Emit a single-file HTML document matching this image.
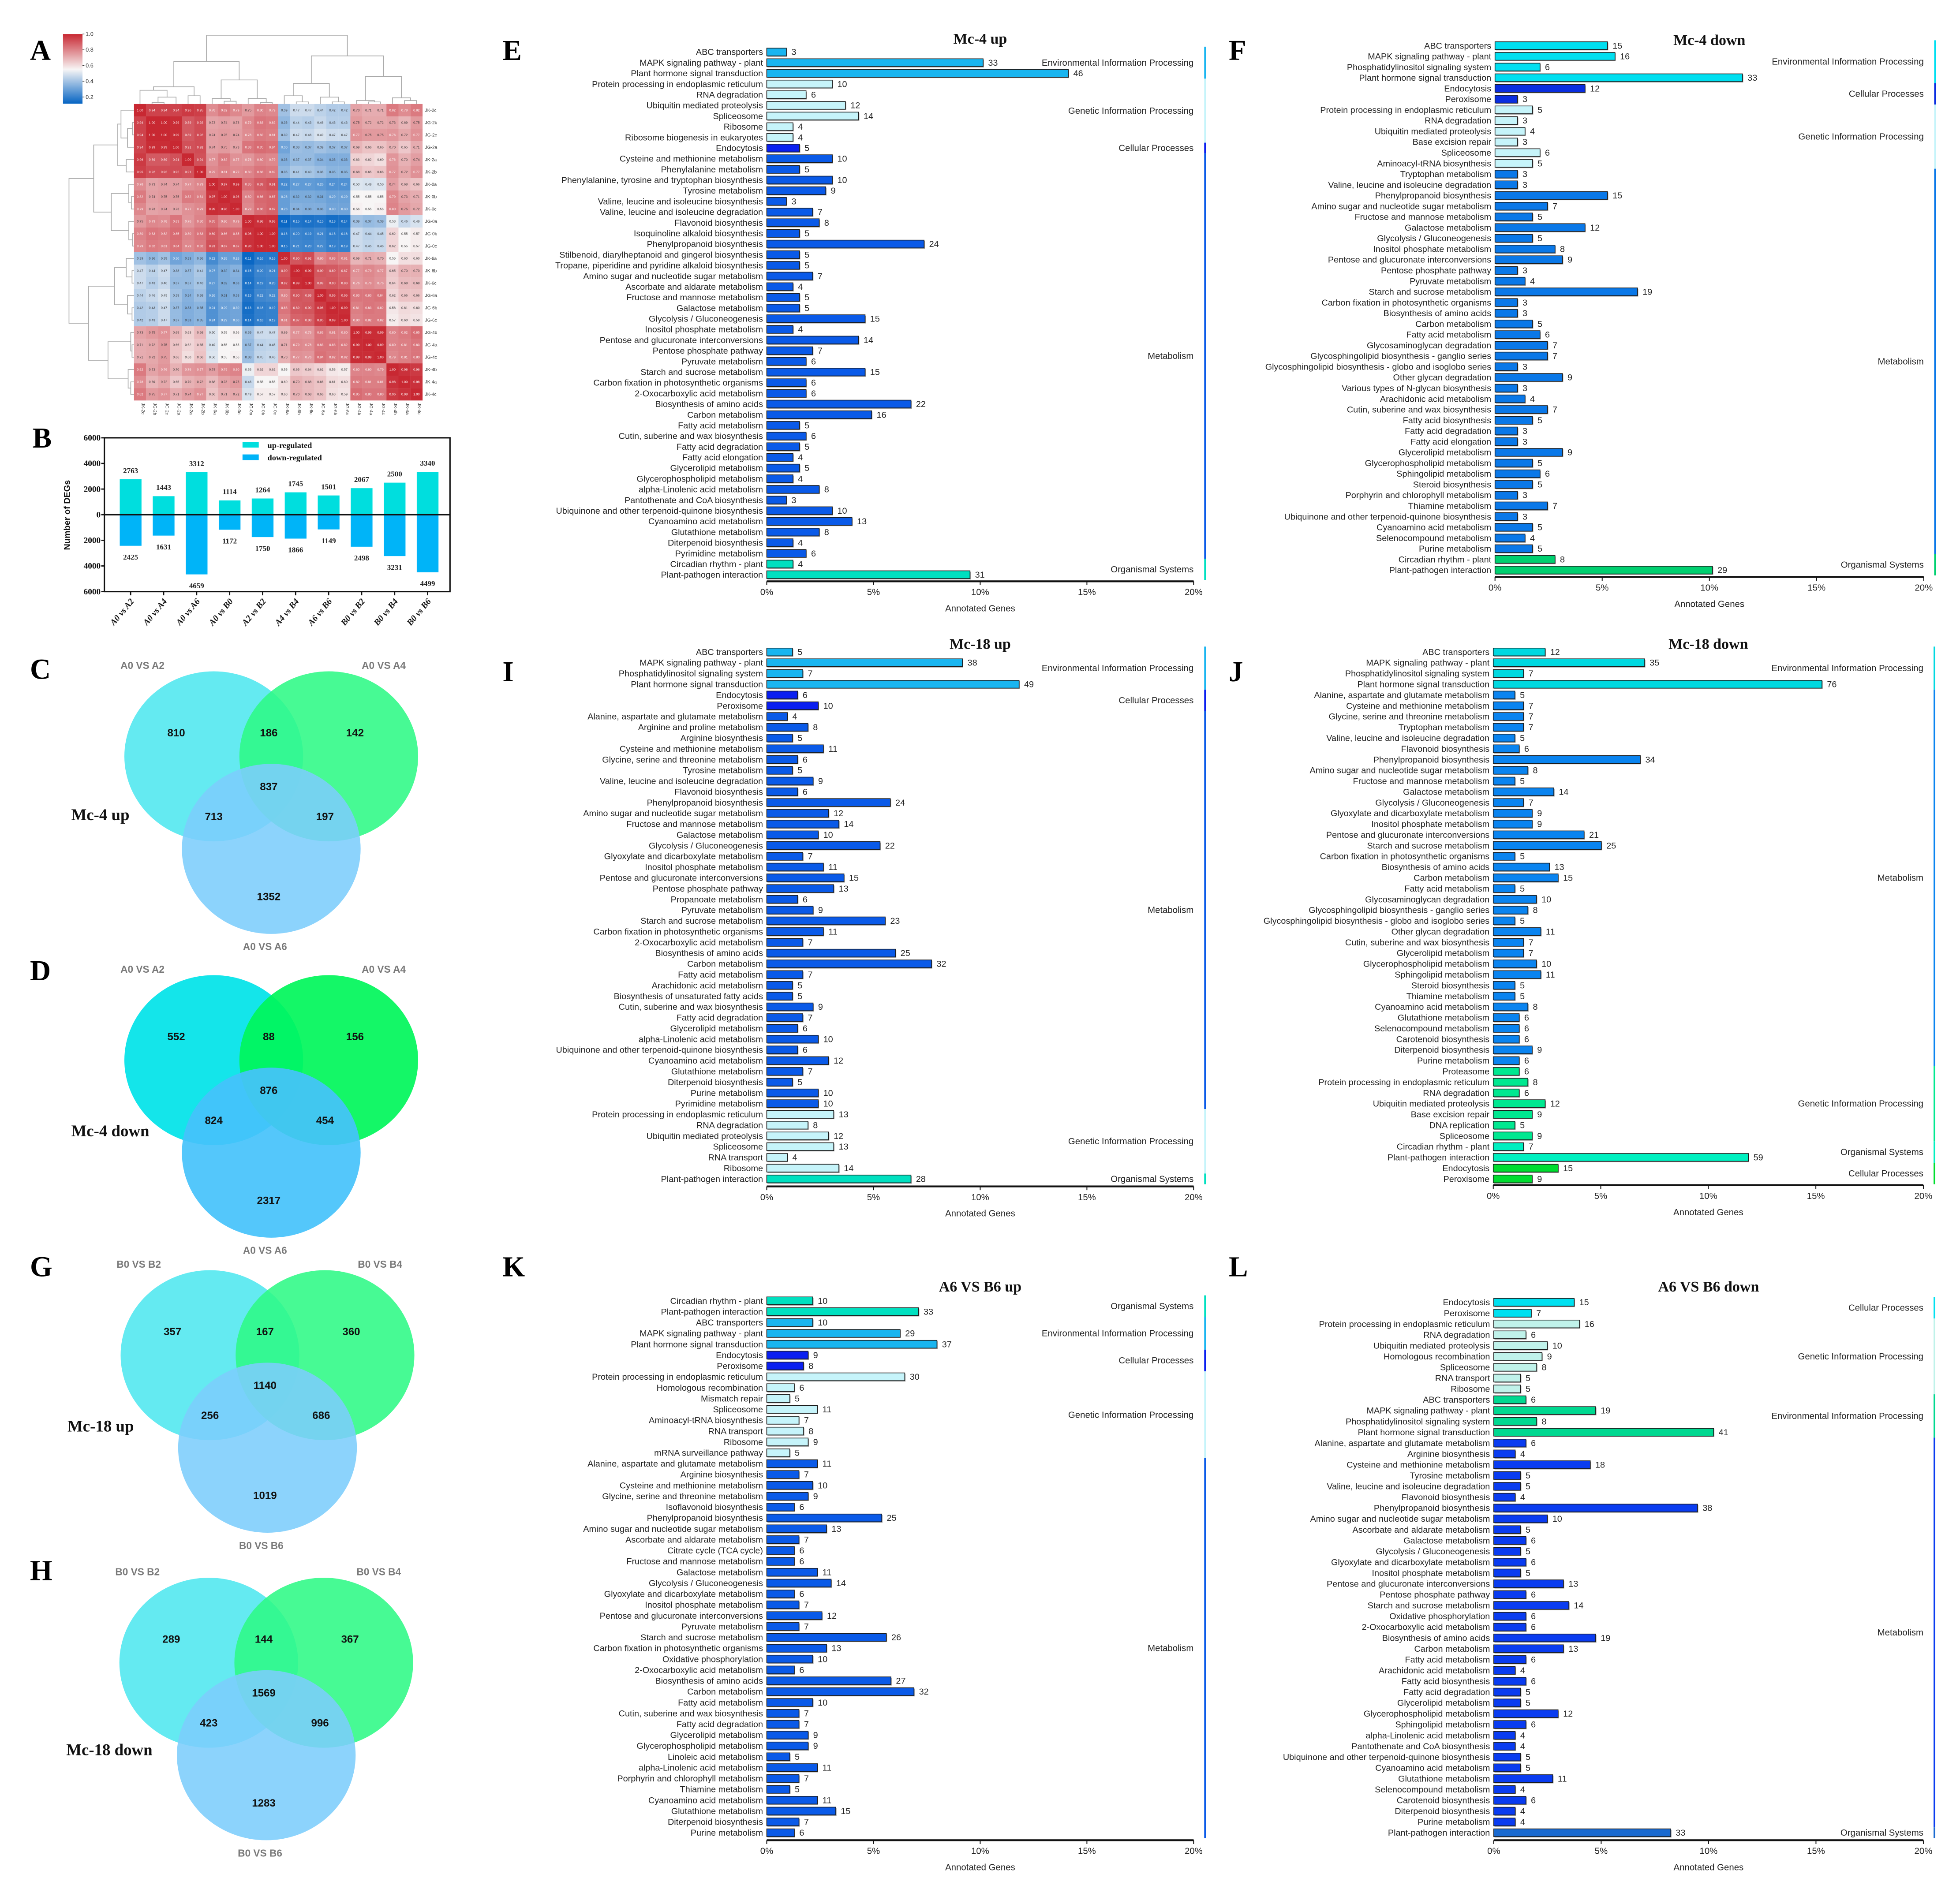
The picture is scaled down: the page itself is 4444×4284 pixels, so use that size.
<!DOCTYPE html>
<html><head><meta charset="utf-8"><style>
html,body{margin:0;padding:0;background:#fff;}
svg{display:block;}
text{font-family:"Liberation Sans",sans-serif;}
.serif{font-family:"Liberation Serif",serif;}
</style></head><body>
<svg id="fig" xmlns="http://www.w3.org/2000/svg" width="4444" height="4284" viewBox="0 0 1568 1511" preserveAspectRatio="none">
<rect x="0" y="0" width="1568" height="1511" fill="#fff"/>
<defs><linearGradient id="cbar" x1="0" y1="0" x2="0" y2="1">
<stop offset="0" stop-color="#c82832"/><stop offset="0.509" stop-color="#f7f5f5"/><stop offset="1" stop-color="#0564c3"/>
</linearGradient></defs>
</svg>
<script>
// ---------- DATA ----------
const hmLabels=['JK-2c','JG-2b','JG-2c','JG-2a','JK-2a','JK-2b','JK-0a','JK-0b','JK-0c','JG-0a','JG-0b','JG-0c','JK-6a','JK-6b','JK-6c','JG-6a','JG-6b','JG-6c','JG-4b','JG-4a','JG-4c','JK-4b','JK-4a','JK-4c'];
const hmValues=[
[1.00,.94,.94,.94,.96,.95,.78,.82,.79,.75,.80,.79,.39,.47,.47,.44,.42,.42,.73,.71,.71,.82,.78,.82],
[.94,1,1,.99,.89,.92,.73,.74,.73,.79,.83,.82,.36,.44,.43,.46,.43,.43,.75,.72,.72,.73,.69,.75],
[.94,1,1,.99,.89,.92,.74,.75,.74,.78,.82,.81,.39,.47,.46,.49,.47,.47,.77,.75,.75,.76,.72,.77],
[.94,.99,.99,1,.91,.92,.74,.75,.73,.83,.85,.84,.30,.38,.37,.39,.37,.37,.69,.66,.66,.70,.65,.71],
[.96,.89,.89,.91,1,.91,.77,.82,.77,.76,.80,.79,.33,.37,.37,.34,.33,.33,.63,.62,.60,.76,.70,.74],
[.95,.92,.92,.92,.91,1,.79,.81,.79,.80,.83,.82,.36,.41,.40,.38,.35,.35,.68,.65,.66,.77,.72,.77],
[.78,.73,.74,.74,.77,.79,1,.97,.99,.85,.89,.91,.22,.27,.27,.26,.24,.24,.50,.49,.50,.74,.68,.66],
[.82,.74,.75,.75,.82,.81,.97,1,.98,.80,.86,.87,.28,.32,.32,.31,.29,.29,.55,.55,.55,.79,.73,.71],
[.79,.73,.74,.73,.77,.79,.99,.98,1,.79,.85,.87,.28,.34,.33,.33,.30,.30,.56,.55,.56,.80,.75,.72],
[.75,.79,.78,.83,.76,.80,.85,.80,.79,1,.98,.98,.11,.15,.14,.15,.13,.14,.39,.37,.38,.53,.46,.49],
[.80,.83,.82,.85,.80,.83,.89,.86,.85,.98,1,1,.16,.20,.19,.21,.18,.18,.47,.44,.45,.62,.55,.57],
[.79,.82,.81,.84,.79,.82,.91,.87,.87,.98,1,1,.16,.21,.20,.22,.19,.19,.47,.45,.46,.62,.55,.57],
[.39,.36,.39,.30,.33,.36,.22,.28,.28,.11,.16,.16,1,.90,.92,.80,.83,.81,.69,.71,.70,.55,.60,.60],
[.47,.44,.47,.38,.37,.41,.27,.32,.34,.15,.20,.21,.90,1,.99,.90,.89,.87,.77,.79,.77,.65,.70,.70],
[.47,.43,.46,.37,.37,.40,.27,.32,.33,.14,.19,.20,.92,.99,1,.89,.90,.88,.76,.78,.76,.64,.68,.68],
[.44,.46,.49,.39,.34,.38,.26,.31,.33,.15,.21,.22,.80,.90,.89,1,.96,.95,.83,.83,.84,.62,.66,.66],
[.42,.43,.47,.37,.33,.35,.24,.29,.30,.13,.18,.19,.83,.89,.90,.96,1,.99,.81,.83,.82,.58,.61,.60],
[.42,.43,.47,.37,.33,.35,.24,.29,.30,.14,.18,.19,.81,.87,.88,.95,.99,1,.80,.82,.82,.57,.60,.59],
[.73,.75,.77,.69,.63,.68,.50,.55,.56,.39,.47,.47,.69,.77,.76,.83,.81,.80,1,.99,.99,.80,.82,.85],
[.71,.72,.75,.66,.62,.65,.49,.55,.55,.37,.44,.45,.71,.79,.78,.83,.83,.82,.99,1,.99,.80,.81,.83],
[.71,.72,.75,.66,.60,.66,.50,.55,.56,.38,.45,.46,.70,.77,.76,.84,.82,.82,.99,.99,1,.79,.81,.83],
[.82,.73,.76,.70,.76,.77,.74,.79,.80,.53,.62,.62,.55,.65,.64,.62,.58,.57,.80,.80,.79,1,.98,.96],
[.78,.69,.72,.65,.70,.72,.68,.73,.75,.46,.55,.55,.60,.70,.68,.66,.61,.60,.82,.81,.81,.98,1,.98],
[.82,.75,.77,.71,.74,.77,.66,.71,.72,.49,.57,.57,.60,.70,.68,.66,.60,.59,.85,.83,.83,.96,.98,1]];
const hmTree=[1.0,[0.62,[0.25,[0.2,0,[0.1,[0.02,1,2],3]],[0.12,4,5]],[0.35,[0.08,6,[0.04,7,8]],[0.08,9,[0.02,10,11]]]],[0.7,[0.3,[0.12,12,[0.03,13,14]],[0.1,15,[0.03,16,17]]],[0.4,[0.05,18,[0.03,19,20]],[0.09,21,[0.05,22,23]]]]];
const cbTicks=[1.0,0.8,0.6,0.4,0.2];

const degCats=['A0 vs A2','A0 vs A4','A0 vs A6','A0 vs B0','A2 vs B2','A4 vs B4','A6 vs B6','B0 vs B2','B0 vs B4','B0 vs B6'];
const degUp=[2763,1443,3312,1114,1264,1745,1501,2067,2500,3340];
const degDown=[2425,1631,4659,1172,1750,1866,1149,2498,3231,4499];
const degTicks=[6000,4000,2000,0,-2000,-4000,-6000];

const vennC=[810,186,142,837,713,197,1352];
const vennD=[552,88,156,876,824,454,2317];
const vennG=[357,167,360,1140,256,686,1019];
const vennH=[289,144,367,1569,423,996,1283];

const eCats=['ABC transporters','MAPK signaling pathway - plant','Plant hormone signal transduction','Protein processing in endoplasmic reticulum','RNA degradation','Ubiquitin mediated proteolysis','Spliceosome','Ribosome','Ribosome biogenesis in eukaryotes','Endocytosis','Cysteine and methionine metabolism','Phenylalanine metabolism','Phenylalanine, tyrosine and tryptophan biosynthesis','Tyrosine metabolism','Valine, leucine and isoleucine biosynthesis','Valine, leucine and isoleucine degradation','Flavonoid biosynthesis','Isoquinoline alkaloid biosynthesis','Phenylpropanoid biosynthesis','Stilbenoid, diarylheptanoid and gingerol biosynthesis','Tropane, piperidine and pyridine alkaloid biosynthesis','Amino sugar and nucleotide sugar metabolism','Ascorbate and aldarate metabolism','Fructose and mannose metabolism','Galactose metabolism','Glycolysis / Gluconeogenesis','Inositol phosphate metabolism','Pentose and glucuronate interconversions','Pentose phosphate pathway','Pyruvate metabolism','Starch and sucrose metabolism','Carbon fixation in photosynthetic organisms','2-Oxocarboxylic acid metabolism','Biosynthesis of amino acids','Carbon metabolism','Fatty acid metabolism','Cutin, suberine and wax biosynthesis','Fatty acid degradation','Fatty acid elongation','Glycerolipid metabolism','Glycerophospholipid metabolism','alpha-Linolenic acid metabolism','Pantothenate and CoA biosynthesis','Ubiquinone and other terpenoid-quinone biosynthesis','Cyanoamino acid metabolism','Glutathione metabolism','Diterpenoid biosynthesis','Pyrimidine metabolism','Circadian rhythm - plant','Plant-pathogen interaction'];
const eVals=[3,33,46,10,6,12,14,4,4,5,10,5,10,9,3,7,8,5,24,5,5,7,4,5,5,15,4,14,7,6,15,6,6,22,16,5,6,5,4,5,4,8,3,10,13,8,4,6,4,31];
const eGroups=[['Environmental Information Processing',3],['Genetic Information Processing',6],['Cellular Processes',1],['Metabolism',38],['Organismal Systems',2]];

const fCats=['ABC transporters','MAPK signaling pathway - plant','Phosphatidylinositol signaling system','Plant hormone signal transduction','Endocytosis','Peroxisome','Protein processing in endoplasmic reticulum','RNA degradation','Ubiquitin mediated proteolysis','Base excision repair','Spliceosome','Aminoacyl-tRNA biosynthesis','Tryptophan metabolism','Valine, leucine and isoleucine degradation','Phenylpropanoid biosynthesis','Amino sugar and nucleotide sugar metabolism','Fructose and mannose metabolism','Galactose metabolism','Glycolysis / Gluconeogenesis','Inositol phosphate metabolism','Pentose and glucuronate interconversions','Pentose phosphate pathway','Pyruvate metabolism','Starch and sucrose metabolism','Carbon fixation in photosynthetic organisms','Biosynthesis of amino acids','Carbon metabolism','Fatty acid metabolism','Glycosaminoglycan degradation','Glycosphingolipid biosynthesis - ganglio series','Glycosphingolipid biosynthesis - globo and isoglobo series','Other glycan degradation','Various types of N-glycan biosynthesis','Arachidonic acid metabolism','Cutin, suberine and wax biosynthesis','Fatty acid biosynthesis','Fatty acid degradation','Fatty acid elongation','Glycerolipid metabolism','Glycerophospholipid metabolism','Sphingolipid metabolism','Steroid biosynthesis','Porphyrin and chlorophyll metabolism','Thiamine metabolism','Ubiquinone and other terpenoid-quinone biosynthesis','Cyanoamino acid metabolism','Selenocompound metabolism','Purine metabolism','Circadian rhythm - plant','Plant-pathogen interaction'];
const fVals=[15,16,6,33,12,3,5,3,4,3,6,5,3,3,15,7,5,12,5,8,9,3,4,19,3,3,5,6,7,7,3,9,3,4,7,5,3,3,9,5,6,5,3,7,3,5,4,5,8,29];
const fGroups=[['Environmental Information Processing',4],['Cellular Processes',2],['Genetic Information Processing',6],['Metabolism',36],['Organismal Systems',2]];

const iCats=['ABC transporters','MAPK signaling pathway - plant','Phosphatidylinositol signaling system','Plant hormone signal transduction','Endocytosis','Peroxisome','Alanine, aspartate and glutamate metabolism','Arginine and proline metabolism','Arginine biosynthesis','Cysteine and methionine metabolism','Glycine, serine and threonine metabolism','Tyrosine metabolism','Valine, leucine and isoleucine degradation','Flavonoid biosynthesis','Phenylpropanoid biosynthesis','Amino sugar and nucleotide sugar metabolism','Fructose and mannose metabolism','Galactose metabolism','Glycolysis / Gluconeogenesis','Glyoxylate and dicarboxylate metabolism','Inositol phosphate metabolism','Pentose and glucuronate interconversions','Pentose phosphate pathway','Propanoate metabolism','Pyruvate metabolism','Starch and sucrose metabolism','Carbon fixation in photosynthetic organisms','2-Oxocarboxylic acid metabolism','Biosynthesis of amino acids','Carbon metabolism','Fatty acid metabolism','Arachidonic acid metabolism','Biosynthesis of unsaturated fatty acids','Cutin, suberine and wax biosynthesis','Fatty acid degradation','Glycerolipid metabolism','alpha-Linolenic acid metabolism','Ubiquinone and other terpenoid-quinone biosynthesis','Cyanoamino acid metabolism','Glutathione metabolism','Diterpenoid biosynthesis','Purine metabolism','Pyrimidine metabolism','Protein processing in endoplasmic reticulum','RNA degradation','Ubiquitin mediated proteolysis','Spliceosome','RNA transport','Ribosome','Plant-pathogen interaction'];
const iVals=[5,38,7,49,6,10,4,8,5,11,6,5,9,6,24,12,14,10,22,7,11,15,13,6,9,23,11,7,25,32,7,5,5,9,7,6,10,6,12,7,5,10,10,13,8,12,13,4,14,28];
const iGroups=[['Environmental Information Processing',4],['Cellular Processes',2],['Metabolism',37],['Genetic Information Processing',6],['Organismal Systems',1]];

const jCats=['ABC transporters','MAPK signaling pathway - plant','Phosphatidylinositol signaling system','Plant hormone signal transduction','Alanine, aspartate and glutamate metabolism','Cysteine and methionine metabolism','Glycine, serine and threonine metabolism','Tryptophan metabolism','Valine, leucine and isoleucine degradation','Flavonoid biosynthesis','Phenylpropanoid biosynthesis','Amino sugar and nucleotide sugar metabolism','Fructose and mannose metabolism','Galactose metabolism','Glycolysis / Gluconeogenesis','Glyoxylate and dicarboxylate metabolism','Inositol phosphate metabolism','Pentose and glucuronate interconversions','Starch and sucrose metabolism','Carbon fixation in photosynthetic organisms','Biosynthesis of amino acids','Carbon metabolism','Fatty acid metabolism','Glycosaminoglycan degradation','Glycosphingolipid biosynthesis - ganglio series','Glycosphingolipid biosynthesis - globo and isoglobo series','Other glycan degradation','Cutin, suberine and wax biosynthesis','Glycerolipid metabolism','Glycerophospholipid metabolism','Sphingolipid metabolism','Steroid biosynthesis','Thiamine metabolism','Cyanoamino acid metabolism','Glutathione metabolism','Selenocompound metabolism','Carotenoid biosynthesis','Diterpenoid biosynthesis','Purine metabolism','Proteasome','Protein processing in endoplasmic reticulum','RNA degradation','Ubiquitin mediated proteolysis','Base excision repair','DNA replication','Spliceosome','Circadian rhythm - plant','Plant-pathogen interaction','Endocytosis','Peroxisome'];
const jVals=[12,35,7,76,5,7,7,7,5,6,34,8,5,14,7,9,9,21,25,5,13,15,5,10,8,5,11,7,7,10,11,5,5,8,6,6,6,9,6,6,8,6,12,9,5,9,7,59,15,9];
const jGroups=[['Environmental Information Processing',4],['Metabolism',35],['Genetic Information Processing',7],['Organismal Systems',2],['Cellular Processes',2]];

const kCats=['Circadian rhythm - plant','Plant-pathogen interaction','ABC transporters','MAPK signaling pathway - plant','Plant hormone signal transduction','Endocytosis','Peroxisome','Protein processing in endoplasmic reticulum','Homologous recombination','Mismatch repair','Spliceosome','Aminoacyl-tRNA biosynthesis','RNA transport','Ribosome','mRNA surveillance pathway','Alanine, aspartate and glutamate metabolism','Arginine biosynthesis','Cysteine and methionine metabolism','Glycine, serine and threonine metabolism','Isoflavonoid biosynthesis','Phenylpropanoid biosynthesis','Amino sugar and nucleotide sugar metabolism','Ascorbate and aldarate metabolism','Citrate cycle (TCA cycle)','Fructose and mannose metabolism','Galactose metabolism','Glycolysis / Gluconeogenesis','Glyoxylate and dicarboxylate metabolism','Inositol phosphate metabolism','Pentose and glucuronate interconversions','Pyruvate metabolism','Starch and sucrose metabolism','Carbon fixation in photosynthetic organisms','Oxidative phosphorylation','2-Oxocarboxylic acid metabolism','Biosynthesis of amino acids','Carbon metabolism','Fatty acid metabolism','Cutin, suberine and wax biosynthesis','Fatty acid degradation','Glycerolipid metabolism','Glycerophospholipid metabolism','Linoleic acid metabolism','alpha-Linolenic acid metabolism','Porphyrin and chlorophyll metabolism','Thiamine metabolism','Cyanoamino acid metabolism','Glutathione metabolism','Diterpenoid biosynthesis','Purine metabolism'];
const kVals=[10,33,10,29,37,9,8,30,6,5,11,7,8,9,5,11,7,10,9,6,25,13,7,6,6,11,14,6,7,12,7,26,13,10,6,27,32,10,7,7,9,9,5,11,7,5,11,15,7,6];
const kGroups=[['Organismal Systems',2],['Environmental Information Processing',3],['Cellular Processes',2],['Genetic Information Processing',8],['Metabolism',35]];

const lCats=['Endocytosis','Peroxisome','Protein processing in endoplasmic reticulum','RNA degradation','Ubiquitin mediated proteolysis','Homologous recombination','Spliceosome','RNA transport','Ribosome','ABC transporters','MAPK signaling pathway - plant','Phosphatidylinositol signaling system','Plant hormone signal transduction','Alanine, aspartate and glutamate metabolism','Arginine biosynthesis','Cysteine and methionine metabolism','Tyrosine metabolism','Valine, leucine and isoleucine degradation','Flavonoid biosynthesis','Phenylpropanoid biosynthesis','Amino sugar and nucleotide sugar metabolism','Ascorbate and aldarate metabolism','Galactose metabolism','Glycolysis / Gluconeogenesis','Glyoxylate and dicarboxylate metabolism','Inositol phosphate metabolism','Pentose and glucuronate interconversions','Pentose phosphate pathway','Starch and sucrose metabolism','Oxidative phosphorylation','2-Oxocarboxylic acid metabolism','Biosynthesis of amino acids','Carbon metabolism','Fatty acid metabolism','Arachidonic acid metabolism','Fatty acid biosynthesis','Fatty acid degradation','Glycerolipid metabolism','Glycerophospholipid metabolism','Sphingolipid metabolism','alpha-Linolenic acid metabolism','Pantothenate and CoA biosynthesis','Ubiquinone and other terpenoid-quinone biosynthesis','Cyanoamino acid metabolism','Glutathione metabolism','Selenocompound metabolism','Carotenoid biosynthesis','Diterpenoid biosynthesis','Purine metabolism','Plant-pathogen interaction'];
const lVals=[15,7,16,6,10,9,8,5,5,6,19,8,41,6,4,18,5,5,4,38,10,5,6,5,6,5,13,6,14,6,6,19,13,6,4,6,5,5,12,6,4,4,5,5,11,4,6,4,4,33];
const lGroups=[['Cellular Processes',2],['Genetic Information Processing',7],['Environmental Information Processing',4],['Metabolism',36],['Organismal Systems',1]];
const pctTicks=[0,5,10,15,20];

// ---------- helpers ----------
const NS='http://www.w3.org/2000/svg';
const svg=document.getElementById('fig');
function mk(tag,attrs,parent){const e=document.createElementNS(NS,tag);for(const k in attrs)e.setAttribute(k,attrs[k]);(parent||svg).appendChild(e);return e;}
function tx(str,attrs,parent){const e=mk('text',attrs,parent);e.textContent=str;return e;}
function grp(name){const g=mk('g',{});return g;}

// ---------- panel letters ----------
const letters=[['A',24,48],['B',26,358],['C',24,543],['D',24,784],['G',24,1021],['H',24,1264],['E',402,48],['F',983,48],['I',402,545],['J',983,545],['K',402,1021],['L',983,1021]];
for(const L of letters){
  const t=tx(L[0],{x:L[1],y:L[2],'font-size':23,'font-weight':'bold','class':'serif',fill:'#000'});
  
  
}

// ---------- A heatmap ----------
(function(){
  const g=grp('heatmap-panel-a');
  const X0=107.2,X1=338,Y0=83.2,Y1=320.3,n=hmLabels.length;
  const cw=(X1-X0)/n,ch=(Y1-Y0)/n;
  function col(v){const lo=[5,100,195],mid=[247,245,245],hi=[200,40,50];let a,b,t;
    if(v<0.55){t=Math.max(0,(v-0.1)/0.45);a=lo;b=mid;}else{t=Math.min(1,(v-0.55)/0.45);a=mid;b=hi;}
    return 'rgb('+a.map((c,i)=>Math.round(c+(b[i]-c)*t)).join(',')+')';}
  for(let r=0;r<n;r++)for(let c=0;c<n;c++){
    const v=hmValues[r][c];
    const rc=mk('rect',{x:X0+c*cw,y:Y0+r*ch,width:cw+0.05,height:ch+0.05,fill:col(v)},g);
    
    
    const t=tx(v.toFixed(2),{x:X0+c*cw+cw/2,y:Y0+r*ch+ch/2+0.9,'font-size':2.6,'text-anchor':'middle',fill:(v>=0.76||v<=0.3)?'#fff':'#333'},g);
    
    
  }
  for(let i=0;i<n;i++){
    const t=tx(hmLabels[i],{x:X1+2,y:Y0+i*ch+ch/2+1.2,'font-size':3.6,fill:'#333'},g);
    
    
    const cx=X0+i*cw+cw/2;
    const t2=tx(hmLabels[i],{x:cx+1.2,y:Y1+2,'font-size':3.6,fill:'#333',transform:'rotate(90 '+(cx+1.2)+' '+(Y1+2)+')'},g);
    
    
  }
  // dendrograms
  function layout(node){ if(typeof node==='number') return {pos:node+0.5,h:0};
    const a=layout(node[1]),b=layout(node[2]);return {pos:(a.pos+b.pos)/2,h:node[0],a:a,b:b};}
  const tree=layout(hmTree);
  function drawTop(nd){ if(nd.h===0)return;
    const H=55; const y=Y0-nd.h*H, ya=Y0-nd.a.h*H-(nd.a.h===0?0:0), yb=Y0-nd.b.h*H;
    const xa=X0+nd.a.pos*cw,xb=X0+nd.b.pos*cw;
    const p=mk('path',{d:'M'+xa+' '+(nd.a.h===0?Y0:ya)+'V'+y+'H'+xb+'V'+(nd.b.h===0?Y0:yb),fill:'none',stroke:'#aaa','stroke-width':0.6},g);
    
    
    drawTop(nd.a);drawTop(nd.b);}
  function drawLeft(nd){ if(nd.h===0)return;
    const W=52; const x=X0-nd.h*W, xa=X0-nd.a.h*W, xb=X0-nd.b.h*W;
    const ya=Y0+nd.a.pos*ch,yb=Y0+nd.b.pos*ch;
    const p=mk('path',{d:'M'+xa+' '+ya+'H'+x+'V'+yb+'H'+xb,fill:'none',stroke:'#aaa','stroke-width':0.6},g);
    
    
    drawLeft(nd.a);drawLeft(nd.b);}
  drawTop(tree);drawLeft(tree);
  // colorbar
  const cb=mk('rect',{x:50.4,y:27.2,width:15.6,height:55.7,fill:'url(#cbar)'},g);
  
  
  for(const v of cbTicks){
    const y=27.2+(1-v)/0.1*6.3;
    const l=mk('line',{x1:66,x2:67.5,y1:y,y2:y,stroke:'#333','stroke-width':0.4},g);
    
    
    const t=tx(v.toFixed(1),{x:68.5,y:y+1.5,'font-size':4.5,fill:'#333'},g);
    
    
  }
})();

// ---------- B DEG bars ----------
(function(){
  const g=grp('deg-bar-chart-b');
  const AX=83.5,AR=360,Y0=411.7,S=61.5/6000;
  const yOf=v=>Y0-v*S;
  const fr=mk('rect',{x:AX,y:yOf(6000),width:AR-AX,height:yOf(-6000)-yOf(6000),fill:'none',stroke:'#111','stroke-width':1.1},g);
  
  
  for(const v of degTicks){
    const tl=mk('line',{x1:AX-2.5,x2:AX,y1:yOf(v),y2:yOf(v),stroke:'#111','stroke-width':1},g);
    
    
    const t=tx(String(Math.abs(v)),{x:AX-3,y:yOf(v)+2.2,'font-size':6.8,'font-weight':'bold','text-anchor':'end','class':'serif',fill:'#111'},g);
    
    
  }
  const yt=tx('Number of DEGs',{x:0,y:0,'font-size':7,'font-weight':'bold','text-anchor':'middle',fill:'#111',transform:'translate(56 412) rotate(-90)'},g);
  
  
  const bw=17.4,step=26.4,c0=104.5;
  for(let i=0;i<degCats.length;i++){
    const cx=c0+i*step;
    const bu=mk('rect',{x:cx-bw/2,y:yOf(degUp[i]),width:bw,height:Y0-yOf(degUp[i]),fill:'#00dede'},g);
    
    
    const bd=mk('rect',{x:cx-bw/2,y:Y0,width:bw,height:yOf(-degDown[i])-Y0,fill:'#00b4f8'},g);
    
    
    const tu=tx(String(degUp[i]),{x:cx,y:yOf(degUp[i])-5,'font-size':6,'font-weight':'bold','text-anchor':'middle','class':'serif',fill:'#222'},g);
    
    
    const td=tx(String(degDown[i]),{x:cx,y:yOf(-degDown[i])+11,'font-size':6,'font-weight':'bold','text-anchor':'middle','class':'serif',fill:'#222'},g);
    
    
    const tk=mk('line',{x1:cx,x2:cx,y1:yOf(-6000),y2:yOf(-6000)+3,stroke:'#111','stroke-width':1},g);
    
    
    const lx=cx+3,ly=yOf(-6000)+8;
    const cl=tx(degCats[i],{x:lx,y:ly,'font-size':7,'font-weight':'bold','font-style':'italic','text-anchor':'end','class':'serif',fill:'#111',transform:'rotate(-50 '+lx+' '+ly+')'},g);
    
    
  }
  const z=mk('line',{x1:AX,x2:AR,y1:Y0,y2:Y0,stroke:'#111','stroke-width':1.1},g);
  
  
  const l1=mk('rect',{x:194,y:353.5,width:13,height:4.5,fill:'#00dede'},g);
  
  
  const l2=mk('rect',{x:194,y:363.5,width:13,height:4.5,fill:'#00b4f8'},g);
  
  
  const lt1=tx('up-regulated',{x:214,y:358.3,'font-size':6.5,'font-weight':'bold','class':'serif',fill:'#111'},g);
  
  
  const lt2=tx('down-regulated',{x:214,y:368.3,'font-size':6.5,'font-weight':'bold','class':'serif',fill:'#111'},g);
  
  
})();

// ---------- Venns ----------
function venn(name,cx,cy,vals,labs,title,titleDy,cols,op){
  const g=grp(name);
  const centers=[[0,0],[92,0],[46,74]];
  for(let i=0;i<3;i++){
    const e=mk('ellipse',{cx:cx+centers[i][0],cy:cy+centers[i][1],rx:71.5,ry:68,fill:cols[i],'fill-opacity':op},g);
    
    
  }
  const offs=[[-30,-19],[44,-19],[113,-19],[44,24],[0,48],[89,48],[44,112]];
  for(let i=0;i<7;i++){
    const t=tx(String(vals[i]),{x:cx+offs[i][0],y:cy+offs[i][1]+3,'font-size':8.5,'font-weight':'bold','text-anchor':'middle',fill:'#111'},g);
    
    
  }
  const lo=[[-57,-73],[136,-73],[41,152]];
  for(let i=0;i<3;i++){
    const t=tx(labs[i],{x:cx+lo[i][0],y:cy+lo[i][1]+3,'font-size':8,'font-weight':'bold','text-anchor':'middle',fill:'#7a7a7a'},g);
    
    
  }
  const tt=tx(title,{x:cx-114,y:cy+titleDy,'font-size':13,'font-weight':'bold','class':'serif',fill:'#111'},g);
  
  
}
const lightCols=['#4fe7ef','#2ef985','#7ccdfc'];
const darkCols=['#00e3e8','#00f65a','#45c2fb'];
venn('venn-c',171,605,vennC,['A0 VS A2','A0 VS A4','A0 VS A6'],'Mc-4 up',51,lightCols,0.88);
venn('venn-d',171,848,vennD,['A0 VS A2','A0 VS A4','A0 VS A6'],'Mc-4 down',61,darkCols,0.92);
venn('venn-g',168,1084,vennG,['B0 VS B2','B0 VS B4','B0 VS B6'],'Mc-18 up',61,lightCols,0.88);
venn('venn-h',167,1330,vennH,['B0 VS B2','B0 VS B4','B0 VS B6'],'Mc-18 down',74,lightCols,0.88);

// ---------- KEGG bar panels ----------
function panel(name,cats,vals,groups,colors,x0,x20,ppg,y1,yN,axisY,lineX,title,titleY){
  const g=grp(name);
  const n=cats.length,step=(yN-y1)/(n-1),bh=6.2;
  const tt=tx(title,{x:(x0+x20)/2,y:titleY,'font-size':12,'font-weight':'bold','text-anchor':'middle','class':'serif',fill:'#111'},g);
  
  
  let idx=0;
  for(const gr of groups){
    const col=colors[gr[0]];
    const start=idx,end=idx+gr[1]-1;
    const seg=mk('line',{x1:lineX,x2:lineX,y1:y1+start*step-step/2,y2:y1+end*step+step/2,stroke:col,'stroke-width':1.3},g);
    
    
    const gl=tx(gr[0],{x:x20,y:y1+(start+end)/2*step+2.4,'font-size':7.2,'text-anchor':'end',fill:'#222'},g);
    
    
    for(let i=start;i<=end;i++){
      const y=y1+i*step,w=vals[i]*ppg;
      const sh=mk('rect',{x:x0+0.6,y:y-bh/2+0.7,width:w,height:bh,fill:'#9a9a9a'},g);
      
      
      const b=mk('rect',{x:x0,y:y-bh/2,width:w,height:bh,fill:col,stroke:'#1a1a1a','stroke-width':0.55},g);
      
      
      const lb=tx(cats[i],{x:x0-3,y:y+2.4,'font-size':7,'text-anchor':'end',fill:'#222'},g);
      
      
      const vl=tx(String(vals[i]),{x:x0+w+4,y:y+2.4,'font-size':7,fill:'#222'},g);
      
      
    }
    idx=end+1;
  }
  const ax=mk('line',{x1:x0,x2:x20,y1:axisY,y2:axisY,stroke:'#111','stroke-width':1.5},g);
  
  
  for(const p of pctTicks){
    const x=x0+(x20-x0)*p/20;
    const tk=mk('line',{x1:x,x2:x,y1:axisY,y2:axisY+3,stroke:'#111','stroke-width':0.7},g);
    
    
    const tl=tx(p+'%',{x:x,y:axisY+11,'font-size':7.2,'text-anchor':'middle',fill:'#222'},g);
    
    
  }
  const at=tx('Annotated Genes',{x:(x0+x20)/2,y:axisY+24,'font-size':7.2,'text-anchor':'middle',fill:'#222'},g);
  
  
}
const palE={'Environmental Information Processing':'#19b5f0','Genetic Information Processing':'#c6f4fa','Cellular Processes':'#0a1ff0','Metabolism':'#0a5ae8','Organismal Systems':'#00e0c0'};
const palF={'Environmental Information Processing':'#00dff0','Genetic Information Processing':'#c6f4fa','Cellular Processes':'#0a2ee0','Metabolism':'#0a78e8','Organismal Systems':'#00d070'};
const palJ={'Environmental Information Processing':'#00d8e0','Genetic Information Processing':'#00e890','Cellular Processes':'#00dd30','Metabolism':'#0a84f0','Organismal Systems':'#00f0c0'};
const palL={'Environmental Information Processing':'#00d890','Genetic Information Processing':'#c0f2ea','Cellular Processes':'#00e0f0','Metabolism':'#0a3cf0','Organismal Systems':'#1a6ad0'};
panel('kegg-panel-e',eCats,eVals,eGroups,palE,613.4,954.9,5.245,41.6,459.7,465,964,'Mc-4 up',35);
panel('kegg-panel-f',fCats,fVals,fGroups,palF,1196,1539,6.0,36.5,456,461.5,1548,'Mc-4 down',36);
panel('kegg-panel-i',iCats,iVals,iGroups,palE,613.4,954.9,4.12,521.5,943,949,964,'Mc-18 up',519);
panel('kegg-panel-j',jCats,jVals,jGroups,palJ,1194.6,1538.7,3.46,521.5,943,948,1547.5,'Mc-18 down',519);
panel('kegg-panel-k',kCats,kVals,kGroups,palE,613.4,954.9,3.68,1040.5,1466,1472,964,'A6 VS B6 up',1033);
panel('kegg-panel-l',lCats,lVals,lGroups,palL,1195,1538.7,4.29,1041.7,1466,1472,1547.5,'A6 VS B6 down',1033);
</script>
</body></html>
